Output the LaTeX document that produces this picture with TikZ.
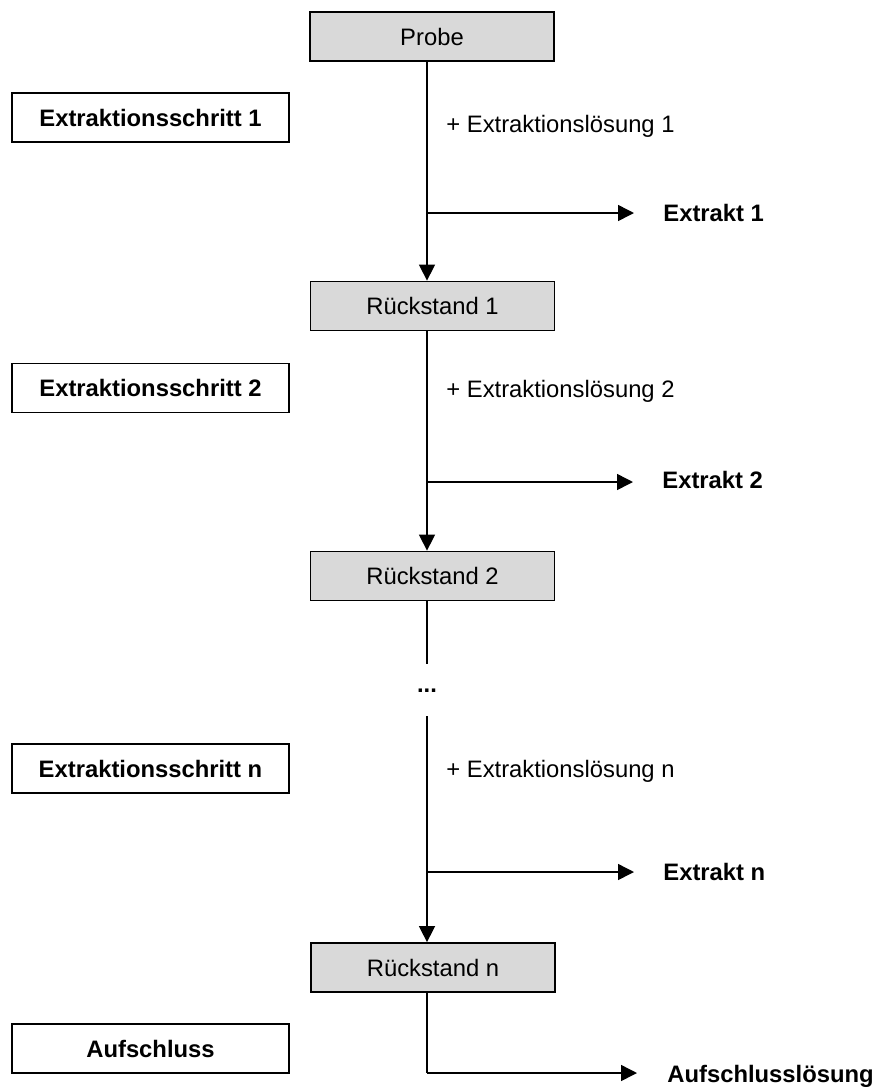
\documentclass[tikz,border=0pt]{standalone}
\usepackage{fontspec}
\setmainfont{Liberation Sans}
\usetikzlibrary{arrows.meta}
\definecolor{boxgray}{RGB}{217,217,217}
\begin{document}
\begin{tikzpicture}[x=0.5pt,y=-0.5pt,
  font=\fontsize{11.9}{14}\selectfont,
  graybox/.style={draw=black,line width=0.9pt,fill=boxgray,minimum width=122pt,minimum height=24.5pt,inner sep=0pt},
  stepbox/.style={draw=black,line width=0.9pt,fill=white,minimum width=138.5pt,minimum height=24.5pt,inner sep=0pt,font=\fontsize{11.9}{14}\selectfont\bfseries},
  lbl/.style={anchor=base west,inner sep=0pt},
  outlbl/.style={anchor=base west,inner sep=0pt,font=\fontsize{11.9}{14}\selectfont\bfseries},
  flow/.style={line width=0.75pt},
  arr/.style={line width=0.75pt,-{Triangle[length=8pt,width=8pt]}}]
\useasboundingbox (0,0) rectangle (876,1088);
\coordinate (cx) at (427,0);
% main boxes
\node[graybox] (probe) at (432,36.5) {Probe};
\node[graybox] (r1) at (432.5,306) {Rückstand 1};
\node[graybox] (r2) at (432.5,576) {Rückstand 2};
\node[graybox] (rn) at (433,967.5) {Rückstand n};
% step boxes
\node[stepbox] (s1) at (150.5,117.5) {Extraktionsschritt 1};
\node[stepbox] (s2) at (150.5,388) {Extraktionsschritt 2};
\node[stepbox] (sn) at (150.5,768.5) {Extraktionsschritt n};
\node[stepbox] (auf) at (150.5,1048.5) {Aufschluss};
% solution labels
\node[lbl] (l1) at (446,132) {+ Extraktionslösung 1};
\node[lbl] (l2) at (446,397) {+ Extraktionslösung 2};
\node[lbl] (ln) at (446,777) {+ Extraktionslösung n};
% extract labels
\node[outlbl] (e1) at (663,221) {Extrakt 1};
\node[outlbl] (e2) at (662,488) {Extrakt 2};
\node[outlbl] (en) at (663,880) {Extrakt n};
\node[outlbl] (al) at (667,1082) {Aufschlusslösung};
% branch points
\coordinate (b1) at (427,213);
\coordinate (t1) at (634,213);
\coordinate (b2) at (427,482);
\coordinate (t2) at (633,482);
\coordinate (bn) at (427,872);
\coordinate (tn) at (634,872);
\coordinate (ba) at (427,1073);
\coordinate (ta) at (637,1073);
\coordinate (d1) at (427,664);
\coordinate (d2) at (427,716);
\node[inner sep=0pt,font=\fontsize{11.9}{14}\selectfont\bfseries] (dots) at (427,691) {...};
% connectors
\draw[arr] (probe.south -| cx) -- (r1.north -| cx);
\draw[arr] (b1) -- (t1);
\draw[arr] (r1.south -| cx) -- (r2.north -| cx);
\draw[arr] (b2) -- (t2);
\draw[flow] (r2.south -| cx) -- (d1);
\draw[arr] (d2) -- (rn.north -| cx);
\draw[arr] (bn) -- (tn);
\draw[flow] (rn.south -| cx) -- (ba);
\draw[arr] (ba) -- (ta);
\end{tikzpicture}
\end{document}
